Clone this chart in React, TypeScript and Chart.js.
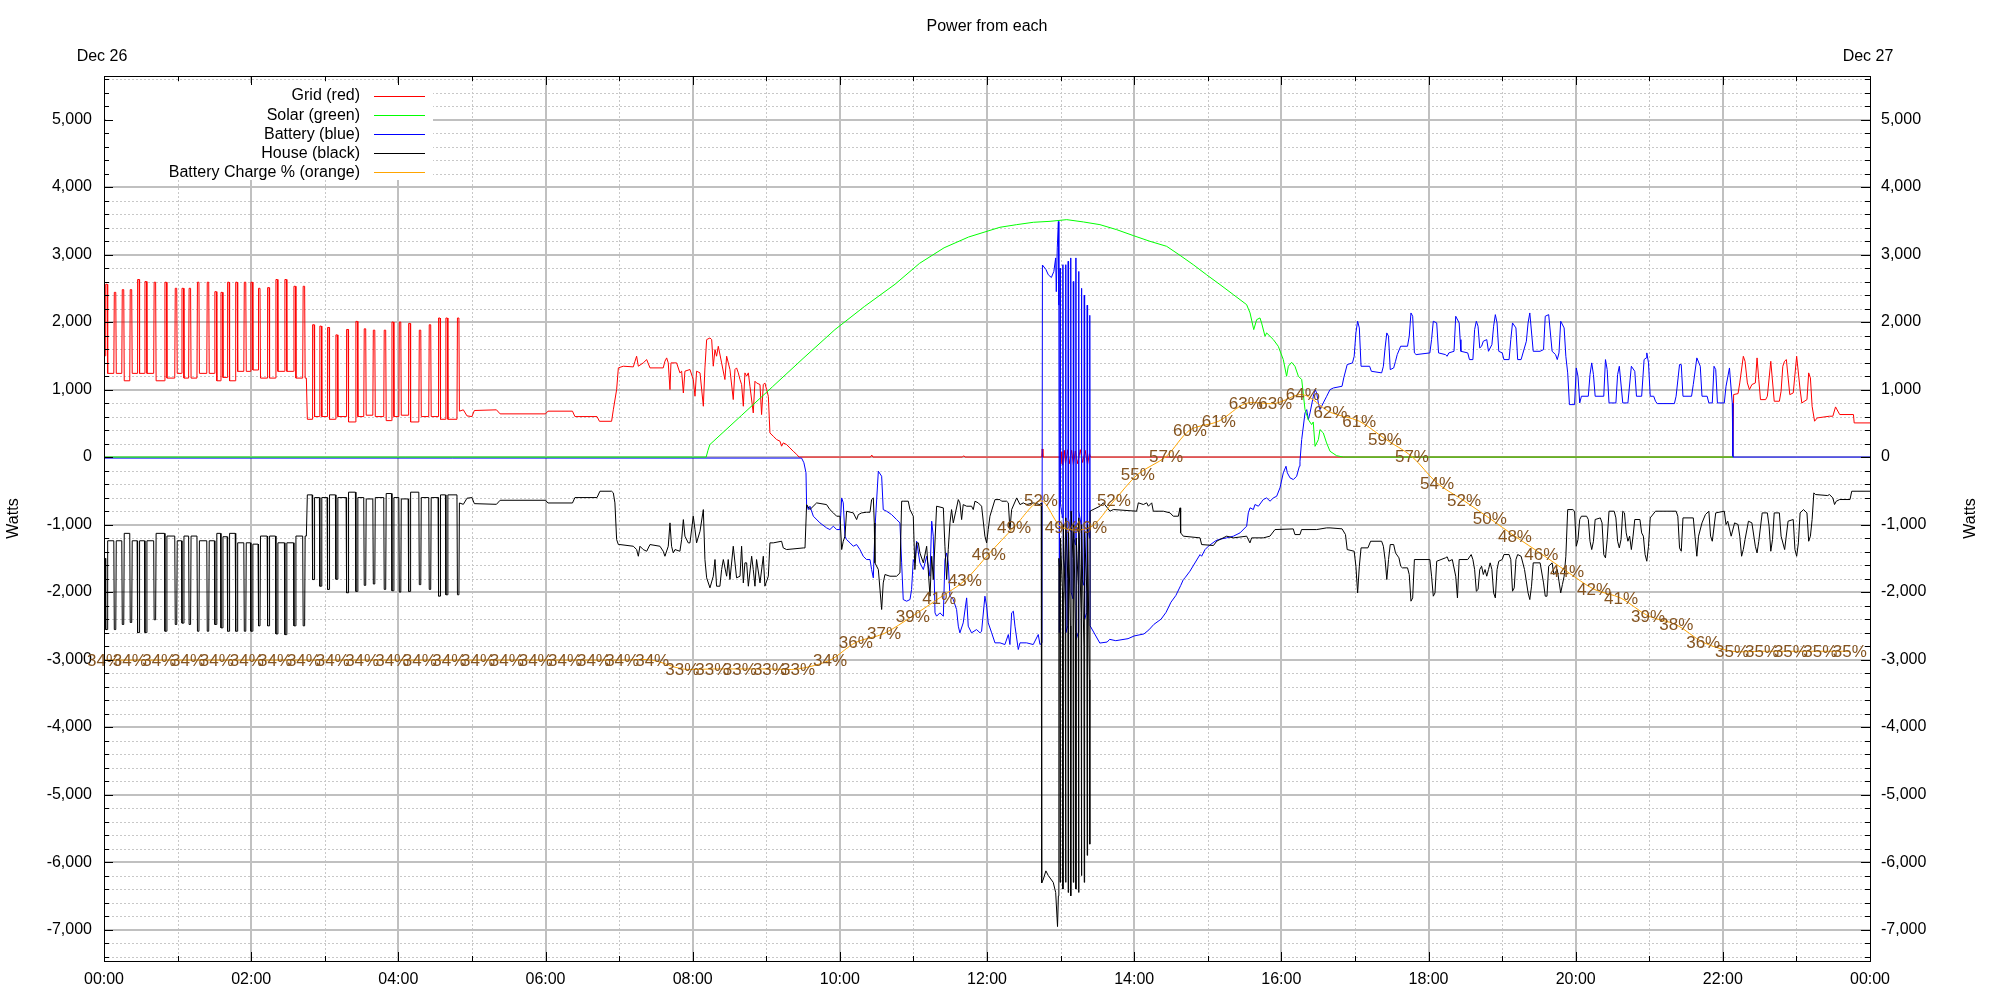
import React, { useEffect, useRef } from 'react';
import { Chart, registerables } from 'chart.js';

Chart.register(...registerables);

const FONT = '"Liberation Sans", Arial, Helvetica, sans-serif';

// ---------- labels / categories ----------
const chartTitle = 'Power from each';
const dateLabels = ['Dec 26', 'Dec 27'];
const axisTitle = 'Watts';
const seriesNames = ['Grid (red)', 'Solar (green)', 'Battery (blue)', 'House (black)', 'Battery Charge % (orange)'];
const seriesColors = ['#ff0000', '#00ff00', '#0000ff', '#000000', '#ffa500'];
const socLabelColor = '#84531f';

// x in minutes after midnight, tick values
const xTickMinutes = [0, 120, 240, 360, 480, 600, 720, 840, 960, 1080, 1200, 1320, 1440];
const xTickLabels = ['00:00', '02:00', '04:00', '06:00', '08:00', '10:00', '12:00', '14:00', '16:00', '18:00', '20:00', '22:00', '00:00'];
const yTickValues = [-7000, -6000, -5000, -4000, -3000, -2000, -1000, 0, 1000, 2000, 3000, 4000, 5000];
const yRange = [-7465, 5645];
const pctRange = [0, 100];

// ---------- series: [minute, watts] ----------
const gridPts: [number, number][] = [
  [0, 1500], [1, 1500], [1.4, 2560], [2.6, 2560], [3, 1240],
  [8, 1240], [8.4, 2440], [9.6, 2440], [10, 1240],
  [14.5, 1240], [14.9, 2480], [16.1, 2480], [16.5, 1130],
  [21, 1130], [21.4, 2480], [22.6, 2480], [23, 1240],
  [27, 1240], [27.4, 2630], [28.6, 2630], [29, 1240],
  [33, 1240], [33.4, 2600], [34.6, 2600], [35, 1240],
  [40.5, 1240], [40.9, 2590], [42.1, 2590], [42.5, 1130],
  [49.3, 1130], [49.7, 2590], [50.9, 2590], [51.3, 1170],
  [57.7, 1170], [58.1, 2500], [59.3, 2500], [59.7, 1240],
  [63.2, 1240], [63.6, 2500], [64.8, 2500], [65.2, 1170],
  [69, 1170], [69.4, 2500], [70.6, 2500], [71, 1170],
  [75.8, 1170], [76.2, 2590], [77.4, 2590], [77.8, 1240],
  [83.8, 1240], [84.2, 2590], [85.4, 2590], [85.8, 1240],
  [90, 1240], [90.4, 2450], [91.6, 2450], [92, 1130],
  [95, 1130], [95.4, 2440], [96.6, 2440], [97, 1180],
  [100.4, 1180], [100.8, 2590], [102, 2590], [102.4, 1130],
  [107, 1130], [107.4, 2590], [108.6, 2590], [109, 1270],
  [114, 1270], [114.4, 2590], [115.6, 2590], [116, 1270],
  [119.4, 1270], [119.8, 2590], [121, 2590], [121.4, 1290],
  [125.6, 1290], [126, 2500], [127.2, 2500], [127.6, 1170],
  [133, 1170], [133.4, 2510], [134.6, 2510], [135, 1170],
  [139.8, 1170], [140.2, 2630], [141.4, 2630], [141.8, 1270],
  [147.1, 1270], [147.5, 2630], [148.7, 2630], [149.1, 1270],
  [154.5, 1270], [154.9, 2530], [156.1, 2530], [156.5, 1170],
  [162, 1170], [162.4, 2530], [163.6, 2530], [164, 1170],
  [165, 1170], [165.8, 560],
  [169.7, 560], [170.1, 1960], [171.3, 1960], [171.7, 600],
  [175.6, 600], [176, 1940], [177.2, 1940], [177.6, 600],
  [181.9, 600], [182.3, 1920], [183.5, 1920], [183.9, 560],
  [188.7, 560], [189.1, 1810], [190.3, 1810], [190.7, 600],
  [197.4, 600], [197.8, 1890], [199, 1890], [199.4, 520],
  [205, 520], [205.4, 2010], [206.6, 2010], [207, 600],
  [211.8, 600], [212.2, 1900], [213.4, 1900], [213.8, 620],
  [219.2, 620], [219.6, 1880], [220.8, 1880], [221.2, 600],
  [228.1, 600], [228.5, 1880], [229.7, 1880], [230.1, 540],
  [234.4, 540], [234.8, 2000], [236, 2000], [236.4, 600],
  [240.4, 600], [240.8, 2000], [242, 2000], [242.4, 620],
  [248, 620], [248.4, 1980], [249.6, 1980], [250, 520],
  [256.7, 520], [257.1, 1880], [258.3, 1880], [258.7, 600],
  [264.8, 600], [265.2, 1960], [266.4, 1960], [266.8, 600],
  [272.4, 600], [272.8, 2060], [274, 2060], [274.4, 560],
  [278.4, 560], [278.8, 2060], [280, 2060], [280.4, 560],
  [287.8, 560], [288.2, 2060], [289.4, 2060], [289.8, 680],
  [293, 700], [296, 610], [300, 600], [302, 690], [320, 700], [323, 640], [360, 640], [362, 680],
  [382, 680], [384, 600], [402, 600], [404, 530], [413.9, 530], [415.3, 700], [418, 1000],
  [419.4, 1321], [423.4, 1346], [431.6, 1336], [433, 1420], [434.3, 1494], [435.7, 1346], [439.7, 1395],
  [442.5, 1444], [445.2, 1321], [456, 1321], [457.4, 1420], [458.8, 1469], [460.1, 1395], [461.5, 1000],
  [462.3, 1395], [466.9, 1395], [469.6, 1247], [471, 1272], [472.4, 950], [473.7, 1272], [477.8, 1297],
  [480.5, 1148], [481.9, 901], [483.2, 1272], [486, 1247], [488.7, 753], [490, 1321], [491.4, 1740],
  [494.1, 1765], [495.5, 1740], [496.8, 1346], [498.2, 1592], [499.5, 1494], [500.9, 1641], [503.6, 1395],
  [506.3, 1148], [507.7, 1494], [510.4, 1297], [513.1, 852], [514.5, 1297], [515.8, 1321], [517.2, 1247],
  [518.6, 1148], [519.9, 1074], [521.3, 753], [522.6, 1247], [524, 1198], [525.4, 1247], [526.7, 1049],
  [529.4, 654], [530.8, 1123], [532.1, 1098], [534.9, 1074], [536.2, 629], [537.6, 1074], [538.9, 1098],
  [540.3, 1000], [541.7, 901], [543, 358], [545.7, 309], [548.5, 259], [551.2, 235], [552.5, 161],
  [553.9, 210], [556.6, 185], [559.3, 136], [562, 86], [564.8, 40], [566.7, 0],
  [625, 0], [626, 30], [627, 0], [700, 0], [701, 20], [702, 0],
  [764.6, 0], [765, 120], [765.6, 0], [779.6, 0], [780.2, -100], [781, 80], [781.8, -120], [783, 100],
  [784, -90], [786, 110], [787, -100], [789, 100], [790.5, -120], [792, 90], [794, -100], [796, 110],
  [798, -80], [800, 100], [802, -110], [803.5, 50], [804.5, 0],
  [1328.2, 0], [1328.8, 926], [1332.4, 940], [1333.8, 1098], [1336.7, 1493], [1338.1, 1419], [1340, 1098],
  [1341.7, 1000], [1343.7, 1074], [1346.5, 1098], [1347.9, 1469], [1349.3, 1148], [1350.7, 851], [1354.9, 851],
  [1356.3, 901], [1359.1, 1419], [1361.9, 827], [1366.1, 827], [1367.5, 975], [1368.9, 1345], [1370.3, 1419],
  [1371.8, 1444], [1374.6, 925], [1377.4, 950], [1380.2, 1493], [1383, 1000], [1384.4, 802], [1388.6, 851],
  [1390, 1247], [1391.4, 1173], [1392.8, 753], [1394.8, 531], [1397, 580], [1406.9, 605], [1409.7, 605],
  [1411.9, 743], [1415.3, 630], [1426.5, 630], [1427.1, 506], [1440, 506],
];

const solarPts: [number, number][] = [
  [0, 0], [491, 0], [492.5, 100], [494, 185], [520, 620], [545, 1040], [570, 1460], [596, 1888],
  [620, 2230], [645, 2560], [665, 2870], [685, 3100], [705, 3260], [730.6, 3404], [744.2, 3443],
  [757.8, 3478], [771.4, 3492], [785, 3517], [798.6, 3483], [812.1, 3443], [825.7, 3369], [839.3, 3281],
  [852.9, 3196], [866.5, 3122], [877.4, 2988], [888.2, 2850], [899.1, 2700], [910, 2555], [920.9, 2406],
  [931.7, 2258], [934.5, 2135], [937.5, 1888], [939.9, 2036], [942.6, 2061], [943.9, 1987], [946.7, 1790],
  [948, 1839], [953.5, 1740], [957.5, 1641], [961.6, 1444], [964.3, 1197], [965.7, 1345], [968.4, 1404],
  [971.1, 1345], [973.9, 1197], [976.6, 1148], [979.3, 703], [982, 555], [984.7, 481], [986, 520],
  [987.5, 159], [990.2, 259], [991.5, 407], [994.2, 358], [996.9, 209], [999.7, 86], [1005.1, 20],
  [1010.6, 0], [1328.2, 0],
];

const batteryPts: [number, number][] = [
  [0, -15], [568.8, -15], [570.7, -84], [572.4, -232], [572.9, -704], [574.3, -778], [575.6, -728], [578.4, -876],
  [583.8, -975], [589.2, -1049], [591.9, -1074], [594.7, -1024], [597.4, -1074], [600.1, -1074], [601.5, -605],
  [602.8, -679], [604.2, -1172], [605.5, -1222], [608.3, -1271], [611, -1321], [613.7, -1296], [616.4, -1370],
  [619.1, -1469], [621.8, -1518], [624.6, -1518], [625.9, -1666], [627.3, -1789], [628.6, -1074], [631.4, -210],
  [634.1, -284], [635.4, -778], [638.2, -803], [642.2, -852], [646.3, -926], [649, -975], [650.4, -1567],
  [651.7, -2111], [654.5, -2135], [657.2, -2111], [658.5, -1962], [659.9, -1518], [661.2, -1567], [662.6, -1247],
  [665.3, -1567], [668.1, -1666], [670.8, -1469], [673.5, -1765], [674.9, -950], [676.2, -1172], [677.6, -2308],
  [678.9, -2357], [681.6, -2308], [684.4, -2357], [685.7, -1518], [687.1, -1420], [688.4, -1567], [689.8, -2061],
  [692.5, -2111], [695.2, -2258], [696.6, -2505], [697.9, -2604], [700.6, -2456], [703.4, -2086], [704.7, -2505],
  [707.4, -2604], [711.5, -2555], [714.3, -2604], [715.6, -2579], [718.3, -2061], [719.7, -2209], [721, -2456],
  [723.8, -2604], [726.5, -2752], [730.6, -2752], [734.6, -2777], [737.4, -2629], [738.7, -2777], [740.1, -2308],
  [741.5, -2283], [742.8, -2505], [745.5, -2851], [746.9, -2752], [752.3, -2752], [757.7, -2777], [761.8, -2629],
  [763.2, -2777], [764.8, -2752],
  [765.2, 2845], [768, 2780], [770, 2700], [772.5, 2660], [774.5, 2750], [776, 2950], [776.5, 2450],
  [777.3, 3100], [778.2, 3490], [778.6, 2250], [779, -2600],
  [779.3, -2600], [779.6, 2800], [779.9, -700],
  [781.6, -900], [781.9, 2850], [782.2, -1500],
  [783.8, -1700], [784.1, 2850], [784.4, -2600],
  [785.9, -2500], [786.2, 2900], [786.5, -900],
  [788, -1100], [788.3, 2950], [788.6, -2000],
  [790.1, -2100], [790.4, 2600], [790.7, -1200],
  [792.2, -1300], [792.5, 2950], [792.8, -2700],
  [794.4, -2600], [794.7, 2750], [795, -800],
  [796.7, -1000], [797, 2500], [797.3, -1800],
  [799, -1900], [799.3, 2400], [799.6, -2400],
  [801.4, -2300], [801.7, 2250], [802, -1000],
  [803.5, -1200], [803.8, 2100], [804.1, -2500],
  [812, -2755], [818, -2740], [820, -2700], [825, -2720], [835, -2690], [840, -2650], [848, -2620],
  [852, -2560], [856, -2480], [862, -2400], [866, -2300], [870, -2150], [874, -2050], [878, -1900],
  [880.1, -1814], [881.4, -1789], [885.5, -1690], [893.7, -1444], [895, -1469], [897.8, -1370], [900.5, -1321],
  [905.9, -1247], [908.6, -1222], [915.4, -1197], [920.9, -1172], [926.3, -1123], [931.7, -1024], [933.1, -826],
  [934.5, -752], [937.2, -777], [938.5, -703], [941.3, -728], [945.3, -629], [948, -605], [950.8, -654],
  [953.5, -605], [956.2, -580], [958.9, -456], [961.6, -234], [963.8, -136], [964.9, -234], [967.1, -308],
  [969.8, -333], [972.5, -284], [974.7, -136], [975.2, -62], [976.6, 259], [979.3, 654], [980.7, 703],
  [982, 555], [983.4, 654], [986.1, 901], [987.5, 1000], [988.8, 950], [990.2, 802], [991.5, 703],
  [994.2, 802], [997, 901], [999.7, 999],
  [1002.5, 1024], [1009.5, 1049], [1010.9, 1173], [1013.7, 1370], [1018, 1395], [1019.4, 1493], [1020.8, 1839],
  [1022.2, 2012], [1023.6, 1913], [1025, 1345], [1032, 1345], [1033.4, 1271], [1041.8, 1247], [1043.2, 1345],
  [1044.6, 1617], [1046, 1839], [1047.4, 1790], [1048.8, 1296], [1051.6, 1320], [1053.1, 1419], [1054.5, 1518],
  [1057.3, 1642], [1062.9, 1642], [1064.3, 1790], [1065.7, 2135], [1067.1, 2086], [1068.5, 1543], [1069.9, 1518],
  [1081.1, 1543], [1082.5, 1740], [1083.9, 2012], [1086.7, 1987], [1088.2, 1543], [1093.8, 1518], [1095.2, 1493],
  [1096.6, 1543], [1100.8, 1567], [1102.2, 2086], [1105, 1987], [1105.8, 1740], [1106.4, 1567], [1112, 1543],
  [1113.4, 1444], [1116.2, 1444], [1117.6, 1888], [1119, 2012], [1120.4, 1938], [1121.8, 1617], [1123.3, 1642],
  [1124.7, 1716], [1127.5, 1740], [1128.9, 1567], [1131.7, 1666], [1133.1, 1938], [1134.5, 2110], [1135.9, 1987],
  [1137.3, 1567], [1140.1, 1543], [1141.5, 1444], [1145.7, 1444], [1147.1, 1740], [1148.5, 1987], [1151.3, 1913],
  [1152.7, 1444], [1155.5, 1444], [1159.8, 1716], [1161.2, 1987], [1162.6, 2135], [1165.4, 1567], [1171, 1567],
  [1173.8, 1592], [1175.2, 2086], [1178, 2110], [1180.8, 1567], [1183.6, 1518], [1185, 1444], [1186.4, 1543],
  [1187.8, 2012], [1190.6, 1913], [1192, 1493], [1193.5, 1247], [1194.9, 777], [1199.1, 777], [1200.5, 1320],
  [1201.9, 1197], [1203.3, 802], [1204.7, 901], [1210.3, 901], [1211.7, 1222], [1213.1, 1395], [1214.5, 1222],
  [1215.9, 901], [1222.9, 901], [1224.3, 1444], [1225.7, 1296], [1227.2, 802], [1232.8, 802], [1234.2, 1222],
  [1235.6, 1345], [1238.4, 802], [1242.6, 802], [1245.4, 1345], [1248.2, 1271], [1249.6, 901], [1253.8, 901],
  [1255.8, 1444], [1257.5, 1469], [1258, 1543], [1259.4, 1395], [1260.8, 901], [1263.6, 901], [1265.1, 827],
  [1266.5, 792], [1280.5, 792], [1281.9, 901], [1284.7, 1370], [1286.1, 1370], [1287.5, 901], [1294.5, 901],
  [1295.9, 1074], [1298.8, 1469], [1301.6, 1345], [1303, 901], [1307.2, 901], [1308.6, 802], [1311.4, 802],
  [1312.8, 1345], [1314.2, 1296], [1315.6, 802], [1321.2, 802], [1322.6, 1049], [1325.4, 1320], [1326.8, 999],
  [1327.7, 802], [1328.2, 0], [1440, 0],
];

const housePts: [number, number][] = [
  [0, -1500], [1, -1500], [1.4, -2555], [2.6, -2555], [3, -1240],
  [8, -1240], [8.4, -2555], [9.6, -2555], [10, -1240],
  [14.5, -1240], [14.9, -2480], [16.1, -2480], [16.5, -1130],
  [21, -1130], [21.4, -2450], [22.6, -2450], [23, -1240],
  [27, -1240], [27.4, -2600], [28.6, -2600], [29, -1240],
  [33, -1240], [33.4, -2600], [34.6, -2600], [35, -1240],
  [40.5, -1240], [40.9, -2410], [42.1, -2410], [42.5, -1130],
  [49.3, -1130], [49.7, -2580], [50.9, -2580], [51.3, -1170],
  [57.7, -1170], [58.1, -2480], [59.3, -2480], [59.7, -1240],
  [63.2, -1240], [63.6, -2460], [64.8, -2460], [65.2, -1170],
  [69, -1170], [69.4, -2480], [70.6, -2480], [71, -1170],
  [75.8, -1170], [76.2, -2580], [77.4, -2580], [77.8, -1240],
  [83.8, -1240], [84.2, -2580], [85.4, -2580], [85.8, -1240],
  [90, -1240], [90.4, -2480], [91.6, -2480], [92, -1130],
  [95, -1130], [95.4, -2530], [96.6, -2530], [97, -1180],
  [100.4, -1180], [100.8, -2580], [102, -2580], [102.4, -1130],
  [107, -1130], [107.4, -2580], [108.6, -2580], [109, -1270],
  [114, -1270], [114.4, -2580], [115.6, -2580], [116, -1270],
  [119.4, -1270], [119.8, -2580], [121, -2580], [121.4, -1290],
  [125.6, -1290], [126, -2500], [127.2, -2500], [127.6, -1170],
  [133, -1170], [133.4, -2500], [134.6, -2500], [135, -1170],
  [139.8, -1170], [140.2, -2620], [141.4, -2620], [141.8, -1270],
  [147.1, -1270], [147.5, -2630], [148.7, -2630], [149.1, -1270],
  [154.5, -1270], [154.9, -2500], [156.1, -2500], [156.5, -1170],
  [162, -1170], [162.4, -2500], [163.6, -2500], [164, -1170],
  [165, -1170], [165.8, -560],
  [169.7, -560], [170.1, -1815], [171.3, -1815], [171.7, -600],
  [175.6, -600], [176, -1913], [177.2, -1913], [177.6, -600],
  [181.9, -600], [182.3, -1960], [183.5, -1960], [183.9, -560],
  [188.7, -560], [189.1, -1810], [190.3, -1810], [190.7, -600],
  [197.4, -600], [197.8, -2010], [199, -2010], [199.4, -520],
  [205, -520], [205.4, -1990], [206.6, -1990], [207, -600],
  [211.8, -600], [212.2, -1900], [213.4, -1900], [213.8, -620],
  [219.2, -620], [219.6, -1880], [220.8, -1880], [221.2, -600],
  [228.1, -600], [228.5, -1960], [229.7, -1960], [230.1, -540],
  [234.4, -540], [234.8, -1980], [236, -1980], [236.4, -600],
  [240.4, -600], [240.8, -2000], [242, -2000], [242.4, -620],
  [248, -620], [248.4, -1990], [249.6, -1990], [250, -520],
  [256.7, -520], [257.1, -1890], [258.3, -1890], [258.7, -600],
  [264.8, -600], [265.2, -1960], [266.4, -1960], [266.8, -600],
  [272.4, -600], [272.8, -2060], [274, -2060], [274.4, -560],
  [278.4, -560], [278.8, -2040], [280, -2040], [280.4, -560],
  [287.8, -560], [288.2, -2040], [289.4, -2040], [289.8, -680],
  [293, -700], [296, -610], [300, -600], [302, -690], [320, -700], [323, -640], [360, -640], [362, -680],
  [382, -680], [384, -600], [402, -600], [404.4, -506], [413.9, -506], [415.3, -530], [416.6, -679], [418, -1222],
  [419.4, -1296], [420.7, -1296], [431.6, -1321], [434.3, -1370], [435.7, -1469], [437, -1321], [439.7, -1370],
  [442.5, -1395], [445.2, -1296], [453.3, -1321], [456, -1395], [457.4, -1469], [460.1, -1321], [461.5, -975],
  [462.8, -1321], [464.2, -1420], [465.6, -1370], [469.6, -1395], [471, -1222], [472.4, -926], [473.7, -1172],
  [476.4, -1271], [477.8, -1271], [480.5, -876], [481.9, -1074], [483.2, -1271], [486, -1098], [488.7, -778],
  [490, -1518], [491.4, -1789], [494.1, -1937], [496.8, -1765], [498.2, -1518], [499.5, -1913], [502.2, -1913],
  [503.6, -1666], [505, -1518], [507.7, -1765], [509, -1518], [510.4, -1814], [513.1, -1321], [515.8, -1789],
  [518.6, -1765], [519.9, -1321], [521.3, -1864], [522.6, -1567], [524, -1567], [525.4, -1913], [528.1, -1469],
  [529.4, -1666], [530.8, -1913], [532.1, -1518], [534.9, -1864], [537.6, -1469], [538.9, -1913], [541.7, -1765],
  [543, -1271], [545.7, -1271], [552.5, -1247], [553.9, -1346], [556.6, -1370], [570.2, -1346], [571.6, -1346],
  [572.9, -704], [575.6, -778], [581.1, -679], [589.2, -704], [591.9, -778], [594.7, -827], [597.4, -876],
  [600.1, -876], [601.5, -1370], [602.8, -1247], [604.2, -1172], [605.5, -803], [611, -827], [613.7, -926],
  [615.1, -852], [617.8, -827], [621.8, -817], [624.6, -817], [625.9, -630], [627.3, -605], [628.1, -975],
  [628.6, -1567], [631.4, -1666], [634.1, -2258], [635.4, -1864], [636.8, -1740], [640.9, -1765], [646.3, -1765],
  [649, -1716], [650.4, -654], [651.7, -654], [655.8, -654], [657.2, -778], [659.9, -876], [661.2, -1666],
  [662.6, -1271], [664, -1271], [665.3, -1420], [668.1, -1567], [670.8, -1321], [673.5, -2061], [674.9, -1469],
  [676.2, -1814], [678.9, -728], [684.4, -753], [685.7, -1321], [687.1, -1814], [688.4, -1370], [689.8, -975],
  [691.1, -778], [692.5, -975], [696.6, -630], [697.9, -679], [699.3, -926], [700.6, -704], [703.4, -728],
  [707.4, -728], [708.8, -778], [710.2, -654], [712.9, -679], [715.6, -728], [718.3, -1172], [719.7, -1271],
  [721, -1074], [722.4, -876], [726.5, -630], [730.6, -630], [731.9, -654], [736, -654], [737.4, -679],
  [738.7, -1074], [740.1, -778], [744.2, -605], [746.9, -704], [749.6, -679], [752.3, -704], [757.7, -679],
  [763.2, -704], [764.2, -679],
  [764.6, -6309], [766, -6250], [768, -6130], [770, -6200], [772, -6250], [774, -6300], [776, -6450],
  [777.5, -6955], [778.2, -6500], [778.6, -1500],
  [779.3, -1700], [779.6, -6300], [779.9, -1200],
  [781.6, -2000], [781.9, -6400], [782.2, -1000],
  [783.8, -2200], [784.1, -6300], [784.4, -900],
  [785.9, -1800], [786.2, -6450], [786.5, -1100],
  [788, -2500], [788.3, -6500], [788.6, -800],
  [790.1, -1500], [790.4, -6300], [790.7, -1000],
  [792.2, -2600], [792.5, -6400], [792.8, -1200],
  [794.4, -1900], [794.7, -6450], [795, -900],
  [796.7, -2300], [797, -6200], [797.3, -1000],
  [799, -2800], [799.3, -6300], [799.6, -1100],
  [801.4, -2000], [801.7, -5900], [802, -1000],
  [803.5, -3300], [803.8, -5734], [804.1, -800],
  [812.1, -728], [814.9, -678], [820.3, -802], [823, -777], [842, -802], [843.4, -678], [847.5, -703],
  [850.2, -678], [851.6, -728], [854.3, -678], [855.6, -802], [863.8, -802], [869.2, -826], [871.9, -876],
  [876, -876], [877.4, -752], [877.9, -1123], [880.1, -1172], [893.7, -1197], [895, -1296], [904.6, -1310],
  [907.3, -1247], [910, -1221], [915.4, -1172], [920.9, -1197], [931.7, -1172], [934.4, -1271], [935.8, -1197],
  [945.3, -1197], [950.7, -1172], [954.8, -1074], [969.7, -1064], [971.1, -1148], [975.2, -1148], [976.5, -1074],
  [988.8, -1074], [996.9, -1049], [999.7, -1049],
  [1009.5, -1063], [1012.3, -1148], [1013.7, -1370], [1019.4, -1395], [1020.8, -1617], [1022.2, -2012],
  [1023.6, -1617], [1025, -1345], [1030.6, -1345], [1032.8, -1247], [1041.8, -1247], [1043.2, -1321],
  [1044.6, -1518], [1046, -1814], [1047.4, -1518], [1048.8, -1296], [1051.6, -1296], [1053.1, -1419],
  [1055.9, -1493], [1057.3, -1617], [1058.7, -1641], [1062.9, -1641], [1064.3, -1740], [1065.7, -2135],
  [1067.1, -2086], [1068.5, -1518], [1081.1, -1518], [1082.5, -1765], [1083.9, -2061], [1085.3, -2012],
  [1086.7, -1543], [1093.8, -1493], [1095.2, -1478], [1096.6, -1543], [1099.4, -1518], [1102.2, -1765],
  [1103.6, -2086], [1105, -1518], [1112, -1518], [1114.8, -1444], [1116.2, -1518], [1117.6, -1666],
  [1119, -1987], [1120.4, -1962], [1121.8, -1666], [1123.3, -1617], [1124.7, -1740], [1126.1, -1666],
  [1127.5, -1765], [1128.9, -1666], [1130.3, -1567], [1131.7, -1666], [1133.1, -2012], [1134.5, -2086],
  [1135.9, -1666], [1137.3, -1543], [1140.1, -1518], [1141.5, -1444], [1145.7, -1444], [1147.1, -1518],
  [1148.5, -1987], [1149.9, -1938], [1151.3, -1518], [1152.7, -1444], [1155.5, -1469], [1158.3, -1666],
  [1161.2, -2012], [1162.6, -2111], [1164, -1913], [1165.4, -1567], [1171, -1567], [1173.8, -1864],
  [1175.2, -2061], [1176.6, -2061], [1178, -1617], [1180.8, -1567], [1182.2, -1740], [1185, -1666],
  [1186.4, -1839], [1187.8, -2012], [1189.2, -1888], [1190.6, -1765], [1192, -1469], [1193.5, -778],
  [1197.7, -778], [1199.1, -802], [1200.5, -1321], [1201.9, -1222], [1203.3, -925], [1204.7, -876],
  [1208.9, -876], [1210.3, -925], [1211.7, -1247], [1213.1, -1370], [1214.5, -1247], [1215.9, -925],
  [1220.1, -901], [1221.5, -975], [1222.9, -1444], [1224.3, -1493], [1225.7, -1222], [1227.2, -802],
  [1231.4, -802], [1232.8, -901], [1234.2, -1247], [1235.6, -1345], [1237, -1222], [1238.4, -802],
  [1239.8, -827], [1241.2, -1123], [1242.6, -1247], [1244, -1172], [1245.4, -1370], [1246.8, -1172],
  [1248.2, -925], [1252.4, -925], [1253.8, -1123], [1255.2, -1172], [1256.6, -1444], [1258, -1543],
  [1259.4, -1321], [1260.8, -901], [1265.1, -802], [1281.9, -802], [1283.3, -876], [1284.7, -1345],
  [1286.1, -1395], [1287.5, -901], [1295.9, -901], [1297.3, -1172], [1298.8, -1469], [1300.2, -1172],
  [1303, -975], [1305.8, -852], [1308.6, -802], [1310, -1172], [1311.4, -1247], [1314.2, -827],
  [1321.2, -802], [1322.6, -999], [1324, -950], [1326.8, -1172], [1329.6, -975], [1332.4, -999],
  [1333.8, -1172], [1335.3, -1469], [1336.7, -1370], [1338.1, -1222], [1340.9, -950], [1343.7, -975],
  [1346.5, -1321], [1347.9, -1419], [1349.3, -1247], [1352.1, -827], [1356.3, -827], [1357.7, -1024],
  [1359.1, -1395], [1360.5, -1222], [1361.9, -827], [1366.1, -827], [1367.5, -1172], [1370.4, -1370],
  [1373.2, -950], [1377.4, -925], [1378.8, -1370], [1380.2, -1469], [1381.6, -1271], [1383, -827],
  [1385.8, -778], [1388.6, -827], [1390, -1247], [1391.4, -1172], [1392.8, -925], [1394.2, -531],
  [1395.6, -555], [1405.5, -570], [1406.9, -555], [1409.7, -605], [1411.1, -703], [1412.5, -654],
  [1415.3, -629], [1423.7, -629], [1425.1, -506], [1440, -506],
];

// battery state of charge (percent), labelled points
const socMinutes = [
  0, 21, 45, 68.5, 92, 116.5, 139.5, 163, 186.5, 210.5, 235, 257.5, 281.5, 305, 328.5, 352, 376, 399.5, 422.5, 447,
  471.5, 496, 518.5, 543, 566,
  592, 613, 636, 659.5, 681, 702, 721.5, 742, 764, 781, 804,
  823.5, 843, 866, 885.5, 909, 931, 955, 977.5,
  1000, 1023.5, 1044.5, 1066.5, 1087, 1109, 1130, 1150.5, 1172, 1193, 1215, 1237, 1259, 1282, 1304,
  1327.5, 1352, 1375.5, 1399.5, 1423.5,
];
const socPercent = [
  34, 34, 34, 34, 34, 34, 34, 34, 34, 34, 34, 34, 34, 34, 34, 34, 34, 34, 34, 34,
  33, 33, 33, 33, 33,
  34, 36, 37, 39, 41, 43, 46, 49, 52, 49, 49,
  52, 55, 57, 60, 61, 63, 63, 64,
  62, 61, 59, 57, 54, 52, 50, 48, 46, 44, 42, 41, 39, 38, 36,
  35, 35, 35, 35, 35,
];

const toXY = (pts: [number, number][]) => pts.map(([x, y]) => ({ x, y }));

function line(ctx: CanvasRenderingContext2D, x1: number, y1: number, x2: number, y2: number) {
  ctx.beginPath();
  ctx.moveTo(x1, y1);
  ctx.lineTo(x2, y2);
  ctx.stroke();
}

const framePlugin = {
  id: 'gnuFrame',
  beforeDatasetsDraw(chart: any) {
    const { ctx, chartArea: a, scales } = chart;
    const sx = scales.x;
    const sy = scales.y;
    ctx.save();
    // minor grid (dashed)
    ctx.strokeStyle = '#c8c8c8';
    ctx.lineWidth = 1;
    ctx.setLineDash([2, 2]);
    for (let m = 60; m < 1440; m += 120) {
      const px = Math.round(sx.getPixelForValue(m)) + 0.5;
      line(ctx, px, a.top, px, a.bottom);
    }
    for (let v = -7400; v <= 5600; v += 200) {
      if (v % 1000 === 0) continue;
      const py = Math.round(sy.getPixelForValue(v)) + 0.5;
      line(ctx, a.left, py, a.right, py);
    }
    // major grid (solid)
    ctx.setLineDash([]);
    ctx.strokeStyle = '#c0c0c0';
    ctx.lineWidth = 2;
    for (let i = 1; i < xTickMinutes.length - 1; i++) {
      const px = Math.round(sx.getPixelForValue(xTickMinutes[i]));
      line(ctx, px, a.top, px, a.bottom);
    }
    for (const v of yTickValues) {
      const py = Math.round(sy.getPixelForValue(v));
      line(ctx, a.left, py, a.right, py);
    }
    // opaque key box
    ctx.fillStyle = '#ffffff';
    ctx.fillRect(106, 83, 327, 97);
    ctx.restore();
  },
  afterDatasetsDraw(chart: any) {
    const { ctx, chartArea: a, scales } = chart;
    const sx = scales.x;
    const sy = scales.y;
    const sp = scales.yP;
    ctx.save();
    // SoC labels
    ctx.fillStyle = socLabelColor;
    ctx.font = `17px ${FONT}`;
    ctx.textAlign = 'center';
    ctx.textBaseline = 'middle';
    for (let i = 0; i < socMinutes.length; i++) {
      ctx.fillText(`${socPercent[i]}%`, sx.getPixelForValue(socMinutes[i]), sp.getPixelForValue(socPercent[i]) + 1);
    }
    // border
    ctx.strokeStyle = '#000';
    ctx.lineWidth = 1;
    ctx.strokeRect(a.left + 0.5, a.top + 0.5, a.right - a.left, a.bottom - a.top);
    // ticks (inward)
    for (let v = -7400; v <= 5600; v += 200) {
      const len = v % 1000 === 0 ? 9 : 5;
      const py = Math.round(sy.getPixelForValue(v)) + 0.5;
      line(ctx, a.left, py, a.left + len, py);
      line(ctx, a.right - len, py, a.right, py);
    }
    for (let m = 60; m < 1440; m += 60) {
      const len = m % 120 === 0 ? 9 : 5;
      const px = Math.round(sx.getPixelForValue(m)) + 0.5;
      line(ctx, px, a.bottom, px, a.bottom - len);
      line(ctx, px, a.top, px, a.top + len);
    }
    ctx.restore();
  },
  afterDraw(chart: any) {
    const { ctx, chartArea: a, scales } = chart;
    const sx = scales.x;
    ctx.save();
    ctx.fillStyle = '#000';
    ctx.font = `16px ${FONT}`;
    ctx.textAlign = 'center';
    ctx.textBaseline = 'middle';
    ctx.fillText(chartTitle, (a.left + a.right) / 2, 27);
    ctx.fillText(dateLabels[0], sx.getPixelForValue(0) - 2, 57);
    ctx.fillText(dateLabels[1], sx.getPixelForValue(1440) - 2, 57);
    const midY = (a.top + a.bottom) / 2;
    for (const cx of [14, 1971]) {
      ctx.save();
      ctx.translate(cx, midY);
      ctx.rotate(-Math.PI / 2);
      ctx.fillText(axisTitle, 0, 0);
      ctx.restore();
    }
    // key
    ctx.textAlign = 'right';
    for (let i = 0; i < seriesNames.length; i++) {
      const ty = 96 + i * 19.1;
      ctx.fillStyle = '#000';
      ctx.fillText(seriesNames[i], 360, ty);
      ctx.strokeStyle = seriesColors[i];
      ctx.lineWidth = 1.2;
      line(ctx, 374, Math.round(ty) + 0.5, 425, Math.round(ty) + 0.5);
    }
    ctx.restore();
  },
};

const fmtW = (v: number) => v.toLocaleString('en-US');

export default function App() {
  const ref = useRef<HTMLCanvasElement>(null);
  useEffect(() => {
    if (!ref.current) return;
    Chart.defaults.font.family = FONT;
    const mk = (label: string, pts: [number, number][], color: string, order: number) => ({
      label,
      data: toXY(pts),
      borderColor: color,
      backgroundColor: color,
      borderWidth: 1,
      pointRadius: 0,
      tension: 0,
      fill: false,
      order,
      borderJoinStyle: 'round' as const,
      yAxisID: 'y',
    });
    const socData = socMinutes.map((m, i) => ({ x: m, y: socPercent[i] }));
    const chart = new Chart(ref.current, {
      type: 'line',
      data: {
        datasets: [
          mk(seriesNames[0], gridPts, seriesColors[0], 5),
          mk(seriesNames[1], solarPts, seriesColors[1], 3),
          mk(seriesNames[2], batteryPts, seriesColors[2], 4),
          mk(seriesNames[3], housePts, seriesColors[3], 2),
          {
            label: seriesNames[4],
            data: socData,
            borderColor: seriesColors[4],
            borderWidth: 1,
            pointRadius: 0,
            tension: 0.3,
            fill: false,
            order: 1,
            yAxisID: 'yP',
          },
        ],
      },
      options: {
        responsive: false,
        animation: false,
        devicePixelRatio: 1,
        events: [],
        layout: { padding: { top: 76, left: 0, right: 0, bottom: 0 } },
        plugins: {
          legend: { display: false },
          tooltip: { enabled: false },
          title: { display: false },
        },
        scales: {
          x: {
            type: 'linear',
            position: 'bottom',
            min: 0,
            max: 1440,
            grid: { display: false, drawTicks: false },
            border: { display: false },
            ticks: {
              autoSkip: false,
              maxRotation: 0,
              padding: 9,
              color: '#000',
              font: { family: FONT, size: 16 },
              callback: (v: any) => {
                const i = xTickMinutes.indexOf(Number(v));
                return i >= 0 ? xTickLabels[i] : '';
              },
            },
            afterBuildTicks: (s: any) => {
              s.ticks = xTickMinutes.map((value) => ({ value }));
            },
            afterFit: (s: any) => {
              s.height = 39;
            },
          },
          y: {
            type: 'linear',
            position: 'left',
            min: yRange[0],
            max: yRange[1],
            grid: { display: false, drawTicks: false },
            border: { display: false },
            ticks: { padding: 12, color: '#000', font: { family: FONT, size: 16 }, callback: (v: any) => fmtW(Number(v)) },
            afterBuildTicks: (s: any) => {
              s.ticks = yTickValues.map((value) => ({ value }));
            },
            afterFit: (s: any) => {
              s.width = 104;
            },
          },
          yR: {
            type: 'linear',
            position: 'right',
            min: yRange[0],
            max: yRange[1],
            grid: { display: false, drawTicks: false },
            border: { display: false },
            ticks: { padding: 11, color: '#000', font: { family: FONT, size: 16 }, callback: (v: any) => fmtW(Number(v)) },
            afterBuildTicks: (s: any) => {
              s.ticks = yTickValues.map((value) => ({ value }));
            },
            afterFit: (s: any) => {
              s.width = 130;
            },
          },
          yP: {
            type: 'linear',
            display: false,
            min: pctRange[0],
            max: pctRange[1],
          },
        },
      },
      plugins: [framePlugin],
    } as any);
    return () => chart.destroy();
  }, []);
  return (
    <canvas
      ref={ref}
      width={2000}
      height={1000}
      style={{ position: 'absolute', left: 0, top: 0, width: 2000, height: 1000, background: '#fff' }}
    />
  );
}
